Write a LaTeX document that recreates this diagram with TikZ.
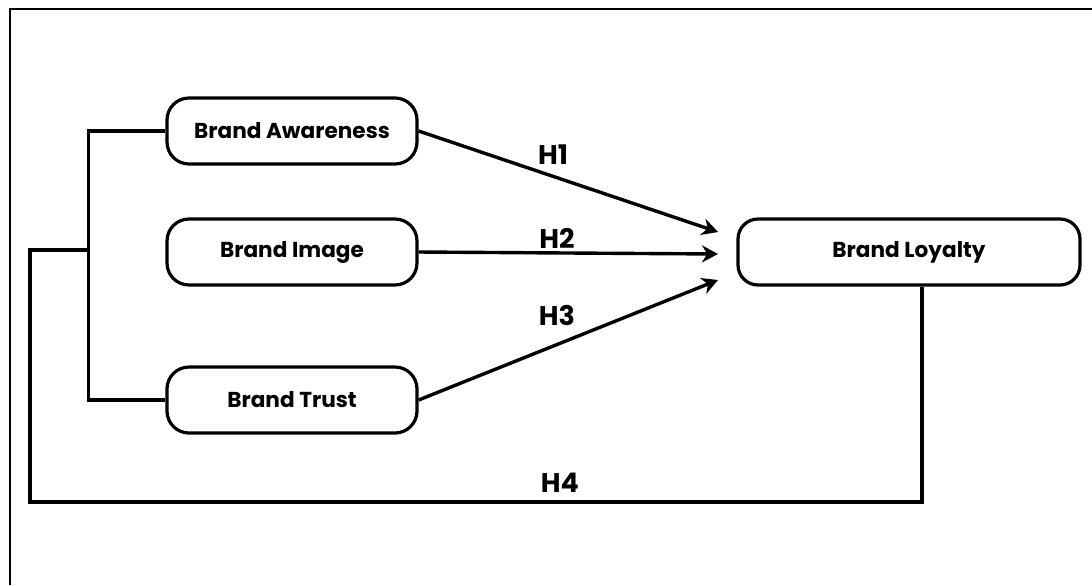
\documentclass[tikz,border=0pt]{standalone}
\usepackage{fontspec}
\setmainfont{Poppins}
\usetikzlibrary{arrows.meta}

\begin{document}
\begin{tikzpicture}[x=0.5pt, y=-0.5pt, >={Stealth[length=8pt, width=8.5pt]},
    brandbox/.style={draw, line width=1.6pt, rounded corners=11pt, minimum width=125pt, minimum height=33pt, font=\bfseries\fontsize{10.8}{12}\selectfont},
    link/.style={line width=1.7pt},
    hyp/.style={font=\bfseries\fontsize{13.5}{15}\selectfont}]
    \useasboundingbox (0,0) rectangle (1092,585);
    \draw[line width=1pt] (10,585) -- (10,9) -- (1092,9);
    % constructs
    \node[brandbox] (aware) at (292,131) {Brand Awareness};
    \node[brandbox] (image) at (292,252) {Brand Image};
    \node[brandbox] (trust) at (292,400) {Brand Trust};
    \node[brandbox, minimum width=171pt, rounded corners=10pt] (loyal) at (909,252) {Brand Loyalty};
    \coordinate (in1) at (718,232);
    \coordinate (in2) at (718,254);
    \coordinate (in3) at (718,280);
    \coordinate (split) at (90,250);
    \coordinate (corner) at (30,502);
    \coordinate (tail) at ([xshift=6.5pt]loyal.south);
    % hypotheses
    \draw[link, ->] (aware.east) -- (in1);
    \draw[link, ->] (image.east) -- (in2);
    \draw[link, ->] (trust.east) -- (in3);
    \draw[link] (aware.west) -- ++(-77,0) |- (trust.west);
    \draw[link] (split) -| (corner) -| (tail);
    \node[hyp] (h1) at (553,155) {H1};
    \node[hyp] (h2) at (557,238) {H2};
    \node[hyp] (h3) at (557,315) {H3};
    \node[hyp] (h4) at (560,483) {H4};
\end{tikzpicture}
\end{document}
